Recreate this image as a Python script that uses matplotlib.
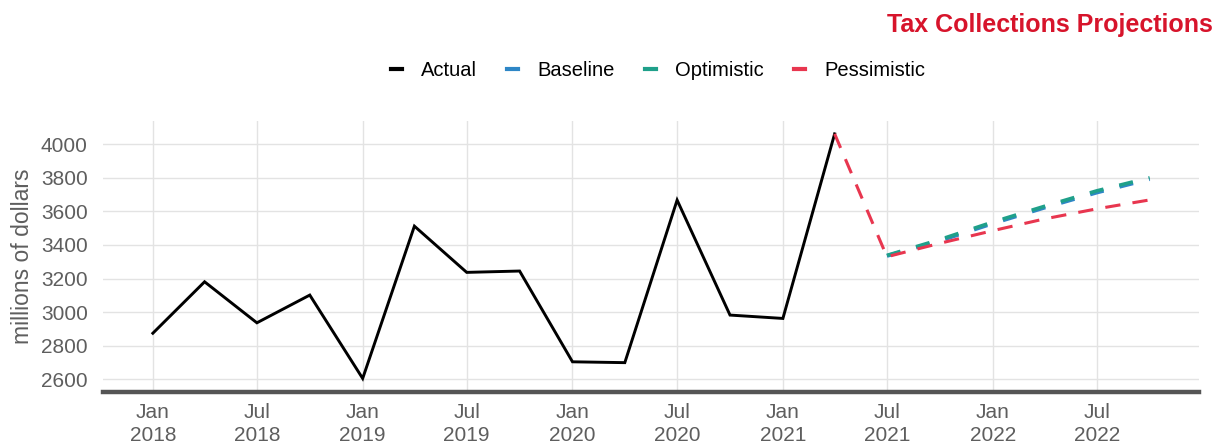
import datetime as dt
import matplotlib
matplotlib.use("Agg")
import matplotlib.pyplot as plt
import matplotlib.dates as mdates
from matplotlib.lines import Line2D

plt.rcParams['font.family'] = ['Liberation Sans', 'DejaVu Sans']

# Quarterly tax collections (millions of dollars)
actual_dates = ["2018-01", "2018-04", "2018-07", "2018-10",
                "2019-01", "2019-04", "2019-07", "2019-10",
                "2020-01", "2020-04", "2020-07", "2020-10",
                "2021-01", "2021-04"]
actual_values = [2875, 3181, 2937, 3102,
                 2606, 3512, 3237, 3245,
                 2705, 2700, 3667, 2983,
                 2963, 4061]

# Projections: the pessimistic path is joined to the last actual quarter
pess_dates = ["2021-04", "2021-07", "2021-10", "2022-01", "2022-04", "2022-07", "2022-10"]
pessimistic = [4061, 3330, 3410, 3485, 3555, 3615, 3668]
proj_dates = ["2021-07", "2021-10", "2022-01", "2022-04", "2022-07", "2022-10"]
baseline = [3335, 3425, 3528, 3622, 3712, 3792]
optimistic = [3338, 3432, 3536, 3630, 3722, 3800]

tick_dates = ["2018-01", "2018-07", "2019-01", "2019-07", "2020-01", "2020-07",
              "2021-01", "2021-07", "2022-01", "2022-07"]
y_ticks = [2600, 2800, 3000, 3200, 3400, 3600, 3800, 4000]

series_colors = {"Actual": "#000000", "Baseline": "#2E86C6",
                 "Optimistic": "#1FA08A", "Pessimistic": "#E8364F"}


def to_date(s):
    y, m = s.split("-")
    return dt.date(int(y), int(m), 1)


xa = [to_date(d) for d in actual_dates]
xpe = [to_date(d) for d in pess_dates]
xp = [to_date(d) for d in proj_dates]
xt = [to_date(d) for d in tick_dates]

fig = plt.figure(figsize=(12.19, 4.48), dpi=100)
ax = fig.add_axes([0.0845, 0.1257, 0.8995, 0.6043])

grid_col = "#E3E3E3"
for t in xt:
    ax.axvline(t, color=grid_col, lw=1.0, zorder=0)
for v in y_ticks:
    ax.axhline(v, color=grid_col, lw=1.0, zorder=0)

ax.plot(xa, actual_values, color=series_colors["Actual"], lw=2.1,
        solid_joinstyle="miter", zorder=3)
ax.plot(xp, baseline, color=series_colors["Baseline"], lw=2.8,
        dashes=(3.6, 4.2), zorder=4)
ax.plot(xp, optimistic, color=series_colors["Optimistic"], lw=2.6,
        dashes=(3.9, 4.5), zorder=4)
ax.plot(xpe, pessimistic, color=series_colors["Pessimistic"], lw=2.2,
        dashes=(5.0, 4.0), zorder=5)

# axis limits with 5% padding around the data
all_x = [mdates.date2num(d) for d in xa + xpe]
x0, x1 = min(all_x), max(all_x)
xpad = (x1 - x0) * 0.05
ax.set_xlim(x0 - xpad, x1 + xpad)
all_y = actual_values + baseline + optimistic + pessimistic
y0, y1 = min(all_y), max(all_y)
ypad = (y1 - y0) * 0.05
ax.set_ylim(y0 - ypad - 6, y1 + ypad + 4)

ax.set_xticks(xt)
ax.set_xticklabels([d.strftime("%b\n%Y") for d in xt], linespacing=1.3)
ax.set_yticks(y_ticks)
ax.tick_params(axis="both", length=0, labelsize=15, labelcolor="#5E5E5E")
ax.tick_params(axis="y", pad=11)
ax.tick_params(axis="x", pad=8)

for side in ["top", "right", "left"]:
    ax.spines[side].set_visible(False)
ax.spines["bottom"].set_color("#555555")
ax.spines["bottom"].set_linewidth(3.2)

ax.set_ylabel("millions of dollars", fontsize=16.5, color="#5E5E5E", labelpad=5)

handles = [Line2D([0], [0], color=c, lw=3) for c in series_colors.values()]
fig.legend(handles, list(series_colors.keys()), loc="center",
           bbox_to_anchor=(0.54, 0.843), ncol=4, frameon=False,
           fontsize=14.5, handlelength=0.55, handletextpad=0.95,
           columnspacing=1.5)

fig.text(0.995, 0.945, "Tax Collections Projections", ha="right", va="center",
         fontsize=18, fontweight="bold", color="#D7142B")

fig.savefig("out.png", dpi=100)
